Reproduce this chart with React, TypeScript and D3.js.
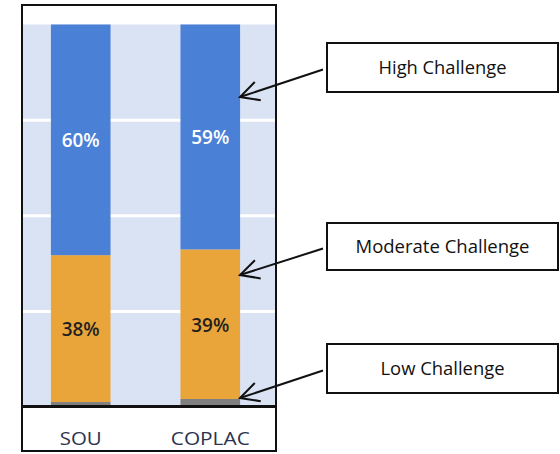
import React from "react";
import * as d3 from "d3";

const categories = ["SOU", "COPLAC"];
const seriesNames = ["Low Challenge", "Moderate Challenge", "High Challenge"];
const lowValues = [1.3, 2.1];
const moderateValues = [38.4, 39.1];
const highValues = [60.3, 58.8];
const gridTicks = [0, 25, 50, 75, 100];
const calloutLabels = ["High Challenge", "Moderate Challenge", "Low Challenge"];

const W = 560;
const H = 454;
const colors: Record<string, string> = {
  "Low Challenge": "#7f7f7f",
  "Moderate Challenge": "#e9a53a",
  "High Challenge": "#4a80d6",
};
const labelColors: Record<string, string> = {
  "Moderate Challenge": "#1f1f1f",
  "High Challenge": "#ffffff",
};

// callout layout (box top, box height, arrow tip y)
const callouts = [
  { boxY: 43, boxH: 49, tipY: 97, textW: 128 },
  { boxY: 223, boxH: 47, tipY: 275, textW: 174 },
  { boxY: 344, boxH: 49, tipY: 398, textW: 124 },
];

export default function App() {
  const x = d3.scaleBand<string>().domain(categories).range([25, 266]).paddingInner(0.54).paddingOuter(0.2);
  const y = d3.scaleLinear().domain([0, 100]).range([407, 24.5]);

  const rows = categories.map((c, i) => ({
    cat: c,
    "Low Challenge": lowValues[i],
    "Moderate Challenge": moderateValues[i],
    "High Challenge": highValues[i],
  }));
  const stacked = d3.stack<any>().keys(seriesNames)(rows);

  const font = "'Open Sans', 'DejaVu Sans', sans-serif";
  const boxX = 327;
  const boxW = 231;
  const tipX = 240;

  return (
    <svg width={W} height={H} style={{ position: "absolute", left: 0, top: 0 }} fontFamily={font}>
      <rect x={0} y={0} width={W} height={H} fill="#ffffff" />
      {/* plot background */}
      <rect x={23} y={y(100)} width={252} height={y(0) - y(100)} fill="#d9e3f4" />
      {gridTicks.filter((t) => t > 0 && t < 100).map((t) => (
        <line key={t} x1={23} x2={275} y1={y(t)} y2={y(t)} stroke="#ffffff" strokeWidth={3} />
      ))}
      {stacked.map((s) =>
        s.map((d, i) => (
          <rect
            key={s.key + i}
            x={x(categories[i])}
            y={y(d[1])}
            width={x.bandwidth()}
            height={y(d[0]) - y(d[1])}
            fill={colors[s.key]}
          />
        ))
      )}
      {stacked
        .filter((s) => s.key !== "Low Challenge")
        .map((s) =>
          s.map((d, i) => (
            <text
              key={"l" + s.key + i}
              x={(x(categories[i]) as number) + x.bandwidth() / 2}
              y={(y(d[0]) + y(d[1])) / 2}
              dy="0.36em"
              textAnchor="middle"
              fontSize={20.5}
              fontWeight={600}
              fill={labelColors[s.key]}
              textLength={38}
              lengthAdjust="spacingAndGlyphs"
            >
              {Math.round(d[1] - d[0]) + "%"}
            </text>
          ))
        )}
      {/* axis line */}
      <line x1={22} x2={276} y1={406.5} y2={406.5} stroke="#111111" strokeWidth={3} />
      {categories.map((c, i) => (
        <text
          key={"c" + c}
          x={(x(c) as number) + x.bandwidth() / 2}
          y={438.5}
          dy="0.36em"
          textAnchor="middle"
          fontSize={18.5}
          fontWeight={500}
          fill="#2c3350"
          textLength={i === 0 ? 42 : 79}
          lengthAdjust="spacingAndGlyphs"
        >
          {c}
        </text>
      ))}
      {/* outer frame */}
      <rect x={22} y={5} width={254} height={446} fill="none" stroke="#111111" strokeWidth={2} />
      {/* callouts */}
      {calloutLabels.map((lab, i) => {
        const c = callouts[i];
        const sx = 323;
        const sy = c.boxY + c.boxH / 2 + 2;
        const ang = Math.atan2(sy - c.tipY, sx - tipX);
        const wl = 21;
        const ha = (27 * Math.PI) / 180;
        const w1 = [tipX + wl * Math.cos(ang - ha), c.tipY + wl * Math.sin(ang - ha)];
        const w2 = [tipX + wl * Math.cos(ang + ha), c.tipY + wl * Math.sin(ang + ha)];
        return (
          <g key={lab}>
            <rect x={boxX} y={c.boxY} width={boxW} height={c.boxH} fill="#ffffff" stroke="#111111" strokeWidth={2} />
            <text
              x={boxX + boxW / 2}
              y={c.boxY + c.boxH / 2}
              dy="0.36em"
              textAnchor="middle"
              fontSize={17.5}
              fill="#111111"
              textLength={c.textW}
              lengthAdjust="spacingAndGlyphs"
            >
              {lab}
            </text>
            <line x1={sx} y1={sy} x2={tipX} y2={c.tipY} stroke="#111111" strokeWidth={2} />
            <polyline
              points={`${w1[0]},${w1[1]} ${tipX},${c.tipY} ${w2[0]},${w2[1]}`}
              fill="none"
              stroke="#111111"
              strokeWidth={2}
            />
          </g>
        );
      })}
    </svg>
  );
}
